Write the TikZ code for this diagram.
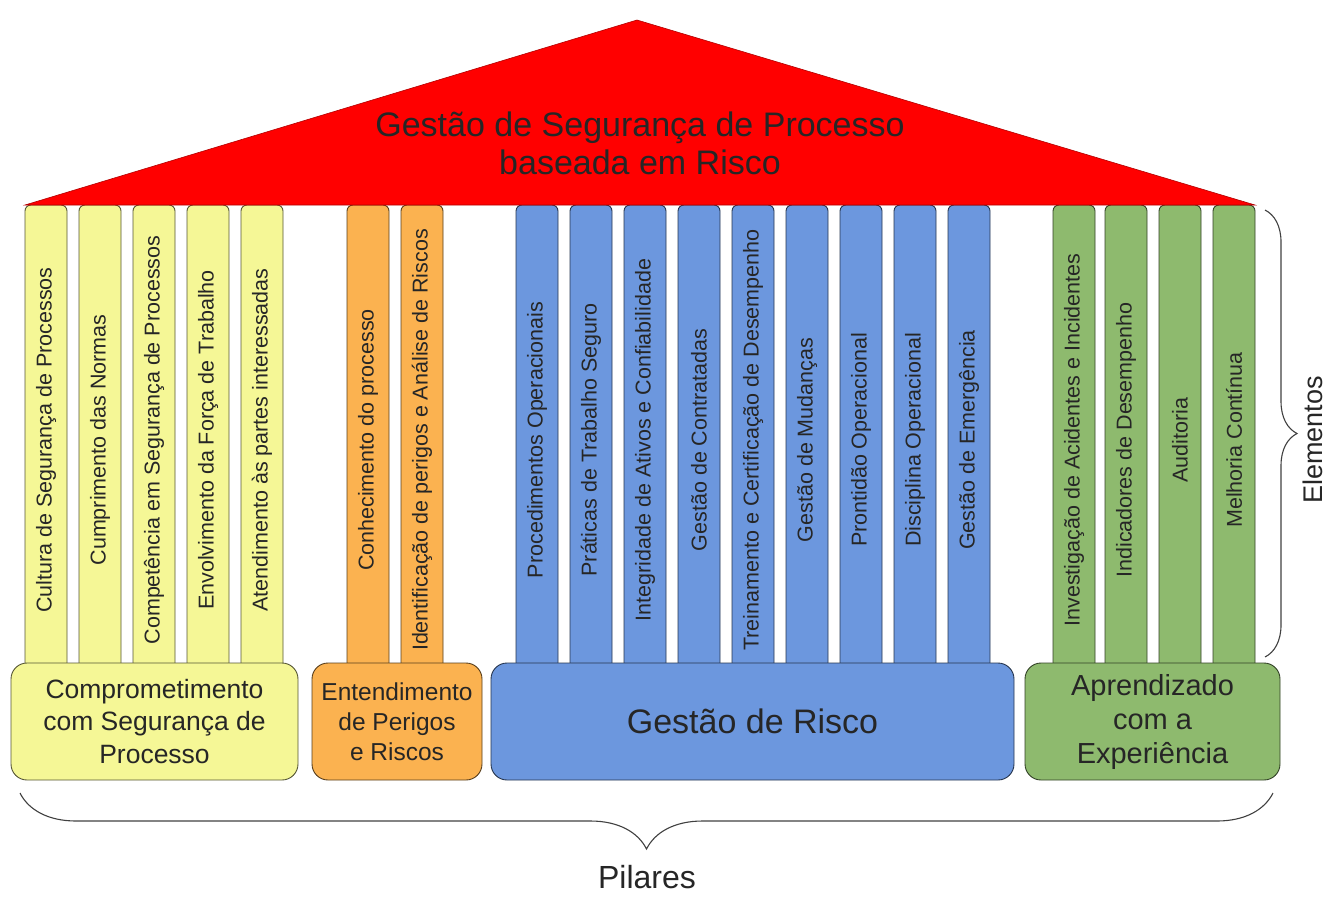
\documentclass[tikz,border=0pt]{standalone}
\usepackage{fontspec}
\setmainfont{Liberation Sans}
\usetikzlibrary{decorations.pathreplacing}

\definecolor{pilarYellow}{RGB}{245,247,150}
\definecolor{pilarOrange}{RGB}{251,178,80}
\definecolor{pilarBlue}{RGB}{108,151,222}
\definecolor{pilarGreen}{RGB}{142,186,110}

\tikzset{
  column/.style={draw=#1!35!black, fill=#1, rounded corners=6pt, line width=0.9pt,
    rotate=90, minimum width=470pt, minimum height=42pt, inner sep=0pt,
    text=black!85, font=\fontsize{21.5}{24}\selectfont},
  pillar/.style={draw=#1!35!black, fill=#1, rounded corners=16pt, line width=0.9pt,
    minimum height=117pt, align=center, inner sep=0pt, text=black!85},
  bracket/.style={draw=black!75, line width=1.1pt, decorate,
    decoration={brace, amplitude=#1}},
}

\begin{document}
\begin{tikzpicture}[x=1pt, y=-1pt]
      \useasboundingbox (0,0) rectangle (1330,898);
      % colunas (elementos)
      \foreach \x/\txt [count=\i] in {46/{Cultura de Segurança de Processos},
          100/{Cumprimento das Normas}, 154/{Competência em Segurança de Processos},
          208/{Envolvimento da Força de Trabalho}, 262/{Atendimento às partes interessadas}}
        \node[column=pilarYellow] (ey\i) at (\x,440) {\txt};
      \foreach \x/\txt [count=\i] in {368/{Conhecimento do processo},
          422/{Identificação de perigos e Análise de Riscos}}
        \node[column=pilarOrange] (eo\i) at (\x,440) {\txt};
      \foreach \x/\txt [count=\i] in {537/{Procedimentos Operacionais},
          591/{Práticas de Trabalho Seguro}, 645/{Integridade de Ativos e Confiabilidade},
          699/{Gestão de Contratadas}, 753/{Treinamento e Certificação de Desempenho},
          807/{Gestão de Mudanças}, 861/{Prontidão Operacional},
          915/{Disciplina Operacional}, 969/{Gestão de Emergência}}
        \node[column=pilarBlue] (eb\i) at (\x,440) {\txt};
      \foreach \x/\txt [count=\i] in {1074/{Investigação de Acidentes e Incidentes},
          1126/{Indicadores de Desempenho}, 1180/{Auditoria}, 1234/{Melhoria Contínua}}
        \node[column=pilarGreen] (eg\i) at (\x,440) {\txt};

      % telhado
      \coordinate (roofL) at (25,205);
      \coordinate (roofT) at (637,20);
      \coordinate (roofR) at (1255,205);
      \draw[fill=red, draw=red!70!black, line width=0.6pt] (roofL) -- (roofT) -- (roofR) -- cycle;
      \node[align=center, text=black!85, font=\fontsize{34}{38}\selectfont] (roof) at (640,143)
        {Gestão de Segurança de Processo\\baseada em Risco};

      % pilares
      \node[pillar=pilarYellow, minimum width=287pt, font=\fontsize{26.5}{32.5}\selectfont]
        (pilCompromisso) at (154.5,721.5) {Comprometimento\\com Segurança de\\Processo};
      \node[pillar=pilarOrange, minimum width=170pt, font=\fontsize{24.5}{30}\selectfont]
        (pilEntendimento) at (397,721.5) {Entendimento\\de Perigos\\e Riscos};
      \node[pillar=pilarBlue, minimum width=523pt, font=\fontsize{34}{38}\selectfont]
        (pilRisco) at (752.5,721.5) {Gestão de Risco};
      \node[pillar=pilarGreen, minimum width=255pt, font=\fontsize{29}{34}\selectfont]
        (pilAprendizado) at (1152.5,721.5) {Aprendizado\\com a\\Experiência};

      % chaves
      \coordinate (elemTop) at (1265,210);
      \coordinate (elemBot) at (1265,657);
      \draw[bracket=32pt] (elemTop) -- (elemBot);
      \node[rotate=90, anchor=base, inner sep=0pt, font=\fontsize{27}{30}\selectfont, text=black!85]
        (elementos) at (1322,440) {Elementos};
      \coordinate (pilR) at (1273,793);
      \coordinate (pilL) at (20,793);
      \draw[bracket=56pt] (pilR) -- (pilL);
      \node[anchor=base, inner sep=0pt, font=\fontsize{32}{36}\selectfont, text=black!85]
        (pilares) at (647,888) {Pilares};
\end{tikzpicture}
\end{document}
